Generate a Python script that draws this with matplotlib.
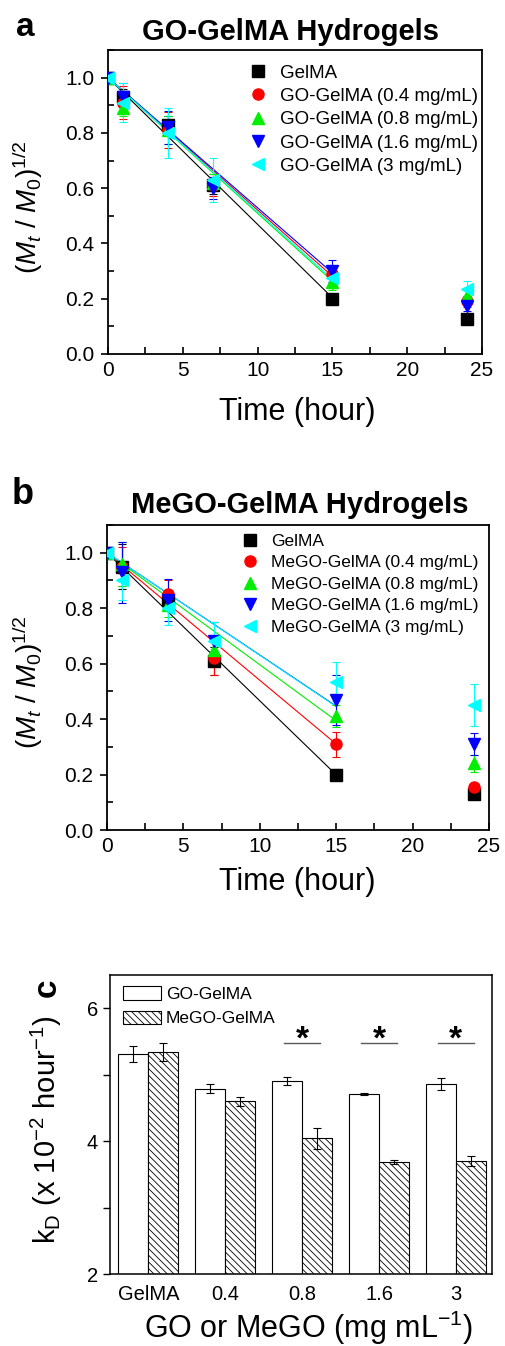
import numpy as np
import matplotlib
matplotlib.use('Agg')
import matplotlib.pyplot as plt
from matplotlib.ticker import MultipleLocator, FormatStrFormatter

plt.rcParams['font.family'] = ['Liberation Sans', 'DejaVu Sans']
plt.rcParams['mathtext.fontset'] = 'custom'
plt.rcParams['mathtext.rm'] = 'Liberation Sans'
plt.rcParams['mathtext.it'] = 'Liberation Sans:italic'
plt.rcParams['mathtext.bf'] = 'Liberation Sans:bold'
plt.rcParams['hatch.linewidth'] = 0.6

# ---- data ----
time_h = [0, 1, 4, 7, 15, 24]

# panel a : GO-GelMA
go_labels = ['GelMA', 'GO-GelMA (0.4 mg/mL)', 'GO-GelMA (0.8 mg/mL)',
             'GO-GelMA (1.6 mg/mL)', 'GO-GelMA (3 mg/mL)']
go_vals = [
    [1.00, 0.93, 0.83, 0.61, 0.20, 0.127],
    [1.00, 0.91, 0.81, 0.61, 0.29, 0.19],
    [1.00, 0.89, 0.81, 0.62, 0.26, 0.21],
    [1.00, 0.93, 0.82, 0.60, 0.30, 0.175],
    [1.00, 0.91, 0.80, 0.63, 0.275, 0.235],
]
go_err = [
    [0.01, 0.03, 0.03, 0.03, 0.01, 0.01],
    [0.01, 0.06, 0.065, 0.04, 0.02, 0.02],
    [0.01, 0.03, 0.05, 0.03, 0.03, 0.02],
    [0.01, 0.05, 0.06, 0.04, 0.04, 0.02],
    [0.02, 0.07, 0.09, 0.08, 0.03, 0.03],
]

# panel b : MeGO-GelMA
mego_labels = ['GelMA', 'MeGO-GelMA (0.4 mg/mL)', 'MeGO-GelMA (0.8 mg/mL)',
               'MeGO-GelMA (1.6 mg/mL)', 'MeGO-GelMA (3 mg/mL)']
mego_vals = [
    [1.00, 0.95, 0.83, 0.61, 0.20, 0.13],
    [1.00, 0.95, 0.85, 0.62, 0.31, 0.155],
    [1.00, 0.96, 0.81, 0.65, 0.41, 0.24],
    [1.00, 0.93, 0.83, 0.68, 0.47, 0.31],
    [1.00, 0.90, 0.80, 0.68, 0.535, 0.45],
]
mego_err = [
    [0.01, 0.08, 0.03, 0.05, 0.02, 0.01],
    [0.01, 0.07, 0.05, 0.06, 0.045, 0.01],
    [0.01, 0.08, 0.04, 0.03, 0.04, 0.03],
    [0.01, 0.11, 0.077, 0.07, 0.09, 0.04],
    [0.01, 0.07, 0.06, 0.07, 0.07, 0.075],
]

# panel c : degradation rate kD (x 10^-2 hour^-1)
conc_labels = ['GelMA', '0.4', '0.8', '1.6', '3']
kd_go = [5.31, 4.79, 4.91, 4.71, 4.86]
kd_go_err = [0.12, 0.07, 0.06, 0.02, 0.09]
kd_mego = [5.34, 4.60, 4.04, 3.69, 3.70]
kd_mego_err = [0.13, 0.07, 0.16, 0.03, 0.08]
sig_groups = [2, 3, 4]

colors = ['black', 'red', '#00ee00', 'blue', 'cyan']
markers = ['s', 'o', '^', 'v', '<']
fit_end = 15

# ---- figure ----
W, H = 505, 1346
fig = plt.figure(figsize=(W / 100, H / 100), dpi=100)


def fx(px):
    return px / W


def fy(py):
    return 1 - py / H


def kinetic_panel(ax, vals, errs, kds, labels, leg_x, leg_y, leg_fs, leg_sp):
    t = np.array(time_h)
    t_fit = np.array([0, fit_end])
    for i in range(len(vals)):
        # straight fit line (M_t/M_0)^1/2 = 1 - kD*t up to 15 h
        ax.plot(t_fit, 1 - np.array(kds[i]) * 1e-2 * t_fit, color=colors[i], lw=0.8, zorder=2)
        ax.errorbar(t, vals[i], yerr=errs[i], fmt='none', ecolor=colors[i],
                    elinewidth=0.8, capsize=3, capthick=0.8, zorder=3)
        ax.plot(t, vals[i], ls='none', marker=markers[i], color=colors[i],
                markersize=8, label=labels[i], zorder=4)
    ax.set_xlim(0, 25)
    ax.set_ylim(0, 1.1)
    ax.xaxis.set_major_locator(MultipleLocator(5))
    ax.xaxis.set_minor_locator(MultipleLocator(2.5))
    ax.yaxis.set_major_locator(MultipleLocator(0.2))
    ax.yaxis.set_minor_locator(MultipleLocator(0.1))
    ax.yaxis.set_major_formatter(FormatStrFormatter('%.1f'))
    ax.tick_params(axis='x', which='both', direction='in', length=5, width=1.2)
    ax.tick_params(axis='y', which='major', direction='out', length=5, width=1.2)
    ax.tick_params(axis='y', which='minor', direction='in', length=4, width=1.2)
    ax.tick_params(labelsize=15, pad=5)
    for s in ax.spines.values():
        s.set_linewidth(1.3)
    ax.legend(loc='upper left', bbox_to_anchor=(leg_x, leg_y), frameon=False,
              fontsize=leg_fs, handletextpad=0.6, labelspacing=leg_sp,
              borderaxespad=0, handlelength=1.2)


ax_a = fig.add_axes([fx(108), fy(354), fx(482 - 108), (354 - 50) / H])
kinetic_panel(ax_a, go_vals, go_err, kd_go, go_labels, 0.35, 0.977, 13.5, 0.33)

ax_b = fig.add_axes([fx(107), fy(830), fx(489 - 107), (830 - 525) / H])
kinetic_panel(ax_b, mego_vals, mego_err, kd_mego, mego_labels, 0.33, 0.995, 12.5, 0.37)

ylab = r'$(M_t\ /\ M_0)^{1/2}$'
fig.text(fx(28), fy(207), ylab, rotation=90, ha='center', va='center', fontsize=20)
fig.text(fx(28), fy(682), ylab, rotation=90, ha='center', va='center', fontsize=20)
fig.text(fx(297), fy(412), 'Time (hour)', ha='center', va='center', fontsize=22)
fig.text(fx(297), fy(882), 'Time (hour)', ha='center', va='center', fontsize=22)
fig.text(fx(290), fy(32), 'GO-GelMA Hydrogels', ha='center', va='center',
         fontsize=21, fontweight='bold')
fig.text(fx(300), fy(505), 'MeGO-GelMA Hydrogels', ha='center', va='center',
         fontsize=21, fontweight='bold')
fig.text(fx(25), fy(27), 'a', ha='center', va='center', fontsize=24, fontweight='bold')
fig.text(fx(23), fy(494), 'b', ha='center', va='center', fontsize=26, fontweight='bold')

# ---- panel c ----
ax_c = fig.add_axes([fx(110), fy(1274), fx(492 - 110), (1274 - 975) / H])
x = np.arange(1, len(conc_labels) + 1)
bw = 0.39
ax_c.bar(x - bw / 2, kd_go, bw, yerr=kd_go_err, color='white', edgecolor='black',
         linewidth=0.8, capsize=3, error_kw=dict(elinewidth=0.8, capthick=0.8),
         label='GO-GelMA')
ax_c.bar(x + bw / 2, kd_mego, bw, yerr=kd_mego_err, color='white', edgecolor='black',
         linewidth=0.8, hatch='\\\\\\\\\\', capsize=3,
         error_kw=dict(elinewidth=0.8, capthick=0.8), label='MeGO-GelMA')
for g in sig_groups:
    ax_c.plot([x[g] - 0.23, x[g] + 0.23], [5.48, 5.48], color='0.35', lw=1)
    ax_c.text(x[g], 5.40, '*', ha='center', va='baseline', fontsize=24, fontweight='bold')
ax_c.set_xlim(0.5, 5.47)
ax_c.set_ylim(2, 6.5)
ax_c.set_xticks(x)
ax_c.set_xticklabels(conc_labels)
ax_c.yaxis.set_major_locator(MultipleLocator(2))
ax_c.yaxis.set_minor_locator(MultipleLocator(1))
ax_c.tick_params(axis='x', length=0, labelsize=14.5, pad=8)
ax_c.tick_params(axis='y', which='both', direction='out', length=5, width=1, labelsize=14.5)
for s in ax_c.spines.values():
    s.set_linewidth(1.1)
ax_c.legend(loc='upper left', bbox_to_anchor=(0.015, 0.985), frameon=False, fontsize=12.5,
            handlelength=2.2, handleheight=0.8, handletextpad=0.3, labelspacing=0.5,
            borderaxespad=0)
fig.text(fx(46), fy(1130), r'k$_\mathrm{D}$ (x 10$^{-2}$ hour$^{-1}$)', rotation=90,
         ha='center', va='center', fontsize=21)
fig.text(fx(309), fy(1328), r'GO or MeGO (mg mL$^{-1}$)', ha='center', va='center',
         fontsize=22)
fig.text(fx(47), fy(988), 'c', rotation=90, ha='center', va='center', fontsize=24,
         fontweight='bold')

fig.savefig('out.png', dpi=100)
